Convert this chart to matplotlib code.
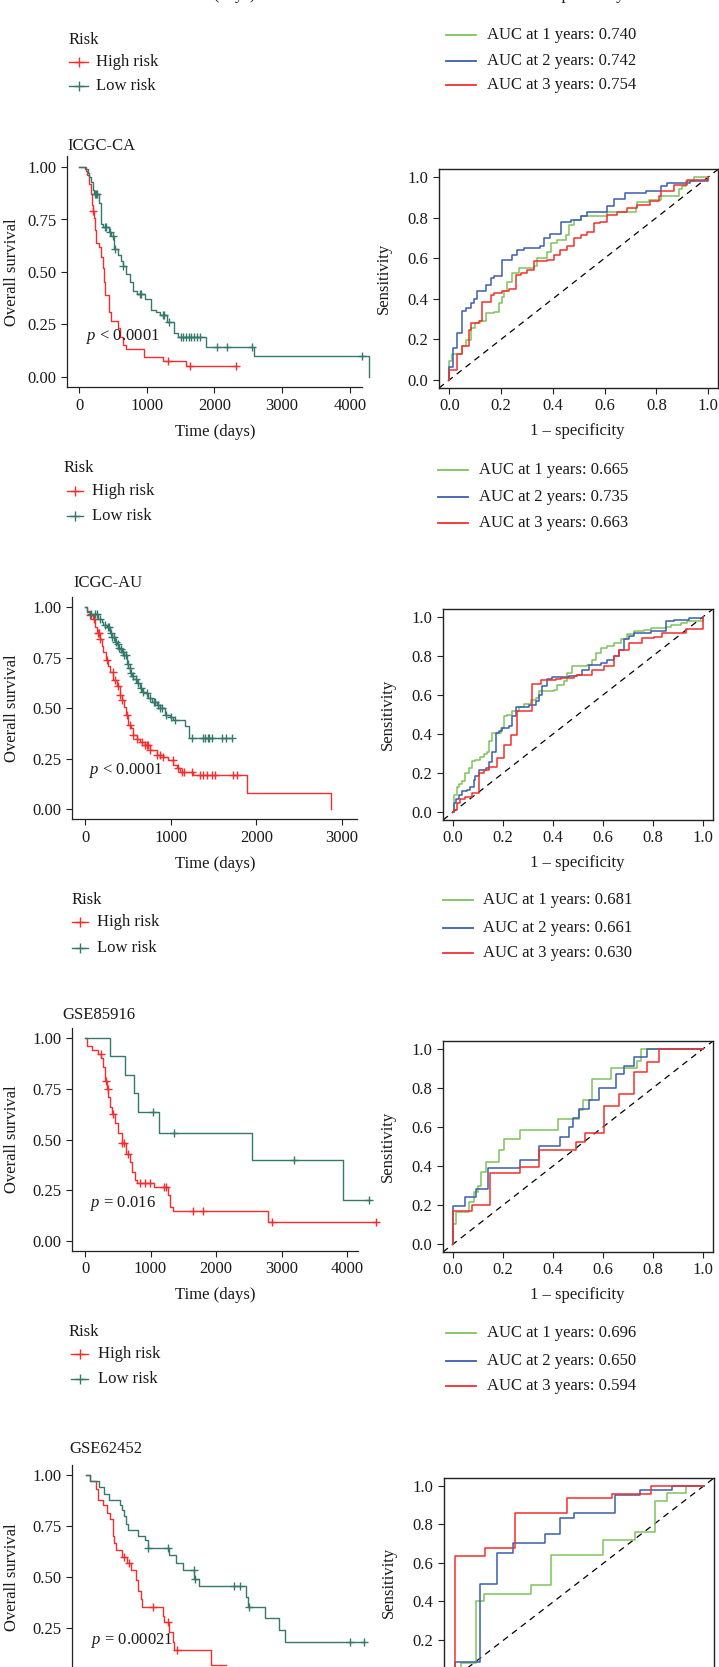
import numpy as np
import matplotlib
matplotlib.use("Agg")
import matplotlib.pyplot as plt
from matplotlib.lines import Line2D

W, H = 719, 1667
plt.rcParams['font.family'] = ['Liberation Serif', 'DejaVu Serif']
plt.rcParams['mathtext.fontset'] = 'custom'
plt.rcParams['mathtext.it'] = 'Liberation Serif:italic'
plt.rcParams['mathtext.rm'] = 'Liberation Serif'
FS = 12
TXT = '#1a1a1a'

RED = '#F52D2D'
TEAL = '#34796B'
ROC_G = '#7DC45A'
ROC_B = '#3A5FAE'
ROC_R = '#F2302E'

# ---------------- data ----------------
titles = ["ICGC-CA", "ICGC-AU", "GSE85916", "GSE62452"]
p_texts = [r"$p$ < 0.0001", r"$p$ < 0.0001", r"$p$ = 0.016", r"$p$ = 0.00021"]
auc_top = ["0.740", "0.742", "0.754"]
auc_vals = [["0.665", "0.735", "0.663"],
            ["0.681", "0.661", "0.630"],
            ["0.696", "0.650", "0.594"]]
years = [1, 2, 3]
km_xticks = [[0, 1000, 2000, 3000, 4000], [0, 1000, 2000, 3000],
             [0, 1000, 2000, 3000, 4000], [0, 1000, 2000, 3000, 4000]]
km_yticks = [0.00, 0.25, 0.50, 0.75, 1.00]
roc_ticks = [0.0, 0.2, 0.4, 0.6, 0.8, 1.0]

# ICGC-CA
ca_high_t = [0, 100, 125, 150, 170, 185, 200, 225, 240, 255, 300, 330, 350, 370, 390, 445, 470, 580, 600, 650, 690, 960, 1240, 1580, 2320]
ca_high_s = [1.0, 0.98, 0.96, 0.92, 0.87, 0.82, 0.79, 0.755, 0.70, 0.64, 0.62, 0.57, 0.52, 0.45, 0.39, 0.31, 0.265, 0.235, 0.19, 0.15, 0.135, 0.095, 0.075, 0.05, 0.05]
ca_high_c = [210, 1320, 1635, 2320]
ca_low_t = [0, 85, 130, 150, 170, 200, 220, 300, 330, 350, 440, 480, 520, 580, 620, 650, 700, 750, 800, 850, 980, 1070, 1130, 1200, 1300, 1400, 1460, 1880, 2580, 4290]
ca_low_s = [1.0, 0.99, 0.97, 0.95, 0.93, 0.89, 0.87, 0.83, 0.73, 0.715, 0.69, 0.67, 0.61, 0.58, 0.55, 0.53, 0.49, 0.45, 0.41, 0.395, 0.37, 0.32, 0.31, 0.295, 0.26, 0.21, 0.19, 0.145, 0.10, 0.0]
ca_low_c = [230, 250, 270, 380, 400, 455, 505, 530, 653, 900, 920, 1240, 1260, 1330, 1500, 1540, 1580, 1620, 1660, 1700, 1740, 1790, 2040, 2180, 2560, 4180]

# ICGC-AU
au_high_t = [0, 27, 58, 89, 117, 136, 175, 200, 214, 245, 272, 292, 331, 370, 409, 428, 455, 479, 506, 533, 564, 603, 642, 700, 759, 837, 914, 973, 1031, 1070, 1109, 1265, 1887, 2872]
au_high_s = [1.0, 0.98, 0.96, 0.94, 0.90, 0.87, 0.84, 0.81, 0.78, 0.74, 0.71, 0.68, 0.64, 0.61, 0.565, 0.54, 0.507, 0.466, 0.417, 0.40, 0.367, 0.35, 0.334, 0.318, 0.293, 0.269, 0.26, 0.244, 0.22, 0.203, 0.186, 0.168, 0.082, 0.0]
au_high_c = [60, 100, 150, 165, 180, 255, 330, 350, 390, 410, 430, 490, 525, 565, 605, 660, 700, 720, 740, 760, 840, 875, 915, 1030, 1090, 1130, 1150, 1245, 1340, 1380, 1420, 1480, 1520, 1730, 1770]
au_low_t = [0, 19, 58, 156, 195, 214, 253, 292, 311, 350, 370, 389, 409, 428, 447, 486, 506, 525, 545, 564, 603, 642, 661, 700, 739, 778, 837, 875, 934, 992, 1031, 1167, 1214, 1710]
au_low_s = [1.0, 0.975, 0.967, 0.942, 0.926, 0.91, 0.90, 0.87, 0.85, 0.83, 0.82, 0.80, 0.795, 0.78, 0.763, 0.72, 0.697, 0.672, 0.66, 0.647, 0.623, 0.598, 0.58, 0.573, 0.549, 0.532, 0.516, 0.50, 0.466, 0.455, 0.44, 0.41, 0.351, 0.351]
au_low_c = [75, 117, 140, 180, 230, 265, 280, 300, 320, 340, 360, 380, 400, 420, 440, 460, 480, 500, 520, 540, 560, 590, 620, 650, 680, 720, 760, 800, 820, 850, 880, 900, 950, 1000, 1050, 1250, 1380, 1400, 1430, 1450, 1480, 1600, 1650, 1710]

# GSE85916
g1_high_t = [0, 36, 102, 204, 250, 270, 305, 330, 356, 380, 407, 458, 509, 560, 626, 680, 720, 757, 800, 1057, 1270, 1300, 1340, 2795, 4436]
g1_high_s = [1.0, 0.96, 0.94, 0.923, 0.90, 0.857, 0.79, 0.75, 0.71, 0.66, 0.628, 0.58, 0.53, 0.483, 0.43, 0.39, 0.34, 0.30, 0.285, 0.265, 0.227, 0.168, 0.148, 0.094, 0.094]
g1_high_c = [240, 320, 351, 424, 565, 602, 657, 847, 917, 986, 1200, 1236, 1656, 1798, 2853, 4436]
g1_low_t = [0, 380, 610, 748, 804, 1135, 2555, 3939, 4336]
g1_low_s = [1.0, 0.912, 0.82, 0.73, 0.637, 0.53, 0.40, 0.20, 0.20]
g1_low_c = [1040, 1359, 3191, 4336]

# GSE62452
g2_high_t = [0, 66, 153, 178, 254, 321, 371, 407, 433, 458, 550, 626, 687, 763, 789, 840, 855, 1170, 1196, 1272, 1323, 1349, 1908, 2137]
g2_high_s = [1.0, 0.972, 0.93, 0.877, 0.853, 0.815, 0.783, 0.70, 0.665, 0.632, 0.60, 0.57, 0.534, 0.485, 0.43, 0.39, 0.355, 0.31, 0.28, 0.23, 0.18, 0.14, 0.068, 0.068]
g2_high_c = [575, 651, 1018, 1247, 1389]
g2_low_t = [0, 66, 204, 270, 356, 524, 550, 575, 611, 646, 789, 901, 941, 1272, 1374, 1476, 1654, 1730, 2443, 2478, 2733, 2952, 3038, 4250]
g2_low_s = [1.0, 0.972, 0.94, 0.91, 0.88, 0.853, 0.83, 0.80, 0.76, 0.73, 0.70, 0.68, 0.64, 0.61, 0.57, 0.534, 0.49, 0.457, 0.40, 0.355, 0.30, 0.24, 0.18, 0.18]
g2_low_c = [952, 1247, 1644, 1664, 2265, 2356, 2490, 4031, 4250]

# ROC curves (fpr, tpr) for 1, 2, 3 years
ca_g_fpr = [0, 0, 0.012, 0.05, 0.063, 0.082, 0.10, 0.12, 0.14, 0.172, 0.192, 0.205, 0.211, 0.224, 0.243, 0.269, 0.327, 0.34, 0.378, 0.391, 0.417, 0.449, 0.462, 0.481, 0.507, 0.61, 0.72, 0.726, 0.771, 0.816, 0.887, 0.90, 0.913, 0.945, 1.0]
ca_g_tpr = [0, 0.095, 0.13, 0.165, 0.197, 0.255, 0.28, 0.29, 0.33, 0.337, 0.378, 0.41, 0.436, 0.485, 0.526, 0.55, 0.56, 0.60, 0.633, 0.674, 0.69, 0.715, 0.765, 0.79, 0.806, 0.83, 0.855, 0.875, 0.888, 0.905, 0.94, 0.954, 0.98, 1.0, 1.0]
ca_b_fpr = [0, 0, 0.015, 0.031, 0.048, 0.063, 0.082, 0.095, 0.108, 0.141, 0.16, 0.172, 0.205, 0.243, 0.262, 0.288, 0.35, 0.365, 0.39, 0.43, 0.47, 0.507, 0.533, 0.61, 0.635, 0.68, 0.76, 0.816, 0.84, 0.93, 1.0]
ca_b_tpr = [0, 0.066, 0.156, 0.23, 0.34, 0.354, 0.378, 0.40, 0.44, 0.47, 0.50, 0.51, 0.59, 0.617, 0.64, 0.65, 0.66, 0.70, 0.72, 0.78, 0.79, 0.806, 0.83, 0.86, 0.89, 0.92, 0.93, 0.954, 0.97, 0.98, 1.0]
ca_r_fpr = [0, 0, 0.031, 0.05, 0.076, 0.082, 0.114, 0.127, 0.159, 0.172, 0.205, 0.23, 0.256, 0.275, 0.301, 0.327, 0.378, 0.404, 0.429, 0.455, 0.481, 0.507, 0.533, 0.559, 0.584, 0.61, 0.649, 0.687, 0.726, 0.777, 0.81, 0.816, 0.867, 0.919, 1.0]
ca_r_tpr = [0, 0.05, 0.13, 0.165, 0.247, 0.283, 0.288, 0.383, 0.42, 0.43, 0.44, 0.447, 0.518, 0.526, 0.543, 0.584, 0.592, 0.617, 0.641, 0.658, 0.70, 0.715, 0.73, 0.773, 0.78, 0.814, 0.83, 0.847, 0.864, 0.88, 0.905, 0.93, 0.962, 0.987, 1.0]

au_g_fpr = [0, 0.005, 0.016, 0.023, 0.036, 0.049, 0.063, 0.076, 0.089, 0.109, 0.123, 0.136, 0.143, 0.156, 0.19, 0.203, 0.216, 0.236, 0.263, 0.283, 0.31, 0.33, 0.343, 0.403, 0.417, 0.443, 0.457, 0.477, 0.537, 0.557, 0.57, 0.59, 0.617, 0.644, 0.67, 0.697, 0.724, 0.764, 0.79, 0.85, 0.87, 0.91, 0.937, 1.0]
au_g_tpr = [0, 0.09, 0.13, 0.145, 0.16, 0.20, 0.226, 0.26, 0.268, 0.285, 0.30, 0.31, 0.362, 0.405, 0.43, 0.49, 0.50, 0.516, 0.54, 0.556, 0.576, 0.585, 0.62, 0.627, 0.653, 0.67, 0.713, 0.747, 0.755, 0.78, 0.815, 0.84, 0.85, 0.867, 0.885, 0.91, 0.926, 0.935, 0.944, 0.95, 0.96, 0.967, 0.977, 1.0]
au_b_fpr = [0, 0.005, 0.013, 0.023, 0.036, 0.056, 0.069, 0.083, 0.089, 0.103, 0.13, 0.143, 0.156, 0.17, 0.183, 0.196, 0.223, 0.236, 0.25, 0.303, 0.33, 0.343, 0.356, 0.377, 0.397, 0.463, 0.497, 0.517, 0.543, 0.59, 0.617, 0.644, 0.664, 0.684, 0.704, 0.724, 0.79, 0.85, 0.883, 0.943, 1.0]
au_b_tpr = [0, 0.046, 0.07, 0.09, 0.106, 0.115, 0.13, 0.166, 0.186, 0.217, 0.226, 0.255, 0.31, 0.405, 0.414, 0.43, 0.44, 0.49, 0.54, 0.55, 0.567, 0.60, 0.644, 0.68, 0.69, 0.695, 0.704, 0.73, 0.755, 0.764, 0.78, 0.80, 0.832, 0.884, 0.90, 0.918, 0.926, 0.977, 0.986, 0.995, 1.0]
au_r_fpr = [0, 0.005, 0.016, 0.029, 0.049, 0.076, 0.103, 0.123, 0.143, 0.176, 0.203, 0.23, 0.256, 0.316, 0.35, 0.41, 0.43, 0.483, 0.497, 0.557, 0.603, 0.644, 0.664, 0.704, 0.757, 0.804, 0.837, 0.93, 1.0]
au_r_tpr = [0, 0.012, 0.046, 0.07, 0.08, 0.097, 0.20, 0.214, 0.23, 0.277, 0.345, 0.397, 0.516, 0.658, 0.675, 0.682, 0.687, 0.696, 0.704, 0.73, 0.747, 0.80, 0.832, 0.867, 0.892, 0.897, 0.915, 0.94, 1.0]

g1_g_fpr = [0, 0, 0.013, 0.065, 0.083, 0.10, 0.111, 0.13, 0.185, 0.204, 0.269, 0.42, 0.505, 0.52, 0.557, 0.63, 0.734, 0.75, 1.0]
g1_g_tpr = [0, 0.103, 0.166, 0.217, 0.268, 0.297, 0.371, 0.422, 0.482, 0.537, 0.585, 0.639, 0.687, 0.738, 0.848, 0.90, 0.94, 1.0, 1.0]
g1_b_fpr = [0, 0, 0.046, 0.093, 0.139, 0.269, 0.343, 0.426, 0.463, 0.48, 0.503, 0.543, 0.583, 0.65, 0.684, 0.724, 0.777, 1.0]
g1_b_tpr = [0, 0.195, 0.239, 0.28, 0.388, 0.43, 0.503, 0.55, 0.598, 0.644, 0.69, 0.736, 0.80, 0.87, 0.914, 0.96, 1.0, 1.0]
g1_r_fpr = [0, 0, 0.074, 0.148, 0.269, 0.343, 0.49, 0.528, 0.605, 0.664, 0.724, 0.774, 0.824, 1.0]
g1_r_tpr = [0, 0.171, 0.20, 0.362, 0.397, 0.482, 0.525, 0.568, 0.707, 0.767, 0.883, 0.934, 1.0, 1.0]

g2_g_fpr = [0, 0.028, 0.088, 0.119, 0.307, 0.387, 0.594, 0.724, 0.802, 0.851, 0.928, 1.0]
g2_g_tpr = [0, 0.077, 0.40, 0.44, 0.483, 0.64, 0.72, 0.76, 0.92, 0.96, 1.0, 1.0]
g2_b_fpr = [0, 0.004, 0.102, 0.173, 0.236, 0.363, 0.423, 0.479, 0.644, 0.742, 0.871, 1.0]
g2_b_tpr = [0, 0.085, 0.49, 0.65, 0.70, 0.75, 0.834, 0.856, 0.95, 0.976, 1.0, 1.0]
g2_r_fpr = [0, 0.004, 0.125, 0.245, 0.452, 0.63, 0.788, 1.0]
g2_r_tpr = [0, 0.637, 0.676, 0.86, 0.938, 0.955, 1.0, 1.0]

km_data = [
    ((ca_high_t, ca_high_s, ca_high_c), (ca_low_t, ca_low_s, ca_low_c)),
    ((au_high_t, au_high_s, au_high_c), (au_low_t, au_low_s, au_low_c)),
    ((g1_high_t, g1_high_s, g1_high_c), (g1_low_t, g1_low_s, g1_low_c)),
    ((g2_high_t, g2_high_s, g2_high_c), (g2_low_t, g2_low_s, g2_low_c)),
]
roc_data = [
    [(ca_g_fpr, ca_g_tpr), (ca_b_fpr, ca_b_tpr), (ca_r_fpr, ca_r_tpr)],
    [(au_g_fpr, au_g_tpr), (au_b_fpr, au_b_tpr), (au_r_fpr, au_r_tpr)],
    [(g1_g_fpr, g1_g_tpr), (g1_b_fpr, g1_b_tpr), (g1_r_fpr, g1_r_tpr)],
    [(g2_g_fpr, g2_g_tpr), (g2_b_fpr, g2_b_tpr), (g2_r_fpr, g2_r_tpr)],
]

# ---------------- layout (pixels) ----------------
# KM: left, right, top(1.05), bottom(-0.05), x of day 0, px per 1000 days
km_box = [(67, 362, 156.5, 387.5, 79, 67.7),
          (72, 357, 597, 819.5, 85, 85.7),
          (72, 358, 1028, 1251, 85, 65.5),
          (72, 362, 1465, 1689, 86, 65.5)]
title_pos = [(67, 146), (73, 583), (62, 1015), (69, 1449)]
p_pos = [(86, 337), (89, 770), (90, 1203), (91, 1640)]
roc_box = [(439, 718.5, 169, 388), (443, 713, 609, 820),
           (443, 713, 1041, 1252), (444, 714, 1478, 1686)]
# KM legends: risk x, ys, line x0, x1, text x
km_leg = [(69, (40, 62, 86), 69, 88, 96),
          (64, (468, 491, 516), 67, 83, 92),
          (72, (900, 922, 948), 72, 88, 97),
          (69, (1332, 1354, 1379), 71, 88, 98)]
roc_leg = [((35, 61, 85), 446, 476, 487),
           ((470, 497, 523), 438, 468, 479),
           ((900, 928, 953), 443, 473, 483),
           ((1333, 1361, 1386), 446, 476, 487)]

fig = plt.figure(figsize=(W / 100, H / 100), dpi=100)


def fx(x):
    return x / W


def fy(y):
    return 1 - y / H


def add_ax(l, r, t, b):
    return fig.add_axes([fx(l), fy(b), (r - l) / W, (b - t) / H])


def step_val(t, s, c):
    t = np.asarray(t, float)
    s = np.asarray(s, float)
    idx = np.searchsorted(t, np.asarray(c, float), side='right') - 1
    return s[np.clip(idx, 0, len(s) - 1)]


def style_ticks(ax):
    ax.tick_params(direction='out', length=4, width=0.8, pad=3.5,
                   labelsize=FS, colors='#222222', labelcolor=TXT)


for i in range(4):
    last = (i == 3)
    l, r, t, b, x0, ppk = km_box[i]
    ax = add_ax(l, r, t, b)
    ax.set_xlim((l - x0) / ppk * 1000, (r - x0) / ppk * 1000)
    ax.set_ylim(-0.05, 1.05)
    for (tt, ss, cc), col in zip(km_data[i], [RED, TEAL]):
        ax.step(tt, ss, where='post', color=col, lw=1.0, clip_on=False)
        ax.plot(cc, step_val(tt, ss, cc), ls='none', marker='+', ms=6,
                mew=1.0, color=col, clip_on=False)
    ax.set_xticks(km_xticks[i])
    yt = km_yticks[1:] if last else km_yticks
    ax.set_yticks(yt)
    ax.set_yticklabels([f"{v:.2f}" for v in yt])
    for sp in ['top', 'right']:
        ax.spines[sp].set_visible(False)
    for sp in ['left', 'bottom']:
        ax.spines[sp].set_linewidth(0.9)
        ax.spines[sp].set_color('#222222')
    style_ticks(ax)
    if last:
        ax.tick_params(labelbottom=False)
    ax.patch.set_alpha(0)
    fig.text(fx(title_pos[i][0]), fy(title_pos[i][1]), titles[i],
             ha='left', va='center', fontsize=FS, color=TXT)
    fig.text(fx(p_pos[i][0]), fy(p_pos[i][1]), p_texts[i],
             ha='left', va='center', fontsize=FS, color=TXT)
    fig.text(fx(12), fy((t + b) / 2), "Overall survival", rotation=90,
             ha='center', va='center', fontsize=FS, color=TXT)
    if not last:
        fig.text(fx(215), fy(b + 44), "Time (days)", ha='center',
                 va='center', fontsize=FS, color=TXT)

    # ROC
    l2, r2, t2, b2 = roc_box[i]
    ax2 = add_ax(l2, r2, t2, b2)
    ax2.set_xlim(-0.04, 1.04)
    ax2.set_ylim(-0.04, 1.04)
    ax2.plot([-0.04, 1.04], [-0.04, 1.04], color='black', lw=0.9,
             ls=(0, (5, 4)))
    for (fp, tp), col in zip(roc_data[i], [ROC_G, ROC_B, ROC_R]):
        ax2.step(fp, tp, where='post', color=col, lw=1.1)
    ax2.set_xticks(roc_ticks)
    ax2.set_xticklabels([f"{v:.1f}" for v in roc_ticks])
    ryt = roc_ticks[1:] if last else roc_ticks
    ax2.set_yticks(ryt)
    ax2.set_yticklabels([f"{v:.1f}" for v in ryt])
    for sp in ax2.spines.values():
        sp.set_linewidth(1.0)
        sp.set_color('#222222')
    style_ticks(ax2)
    if last:
        ax2.tick_params(labelbottom=False)
    fig.text(fx(l2 - 55), fy((t2 + b2) / 2), "Sensitivity", rotation=90,
             ha='center', va='center', fontsize=FS, color=TXT)
    if not last:
        fig.text(fx(577), fy(b2 + 43), "1 \u2013 specificity", ha='center',
                 va='center', fontsize=FS, color=TXT)

# top (cut-off) panel axis labels: only their lower edge shows
fig.text(fx(215), fy(-5), "Time (days)", ha='center', va='center',
         fontsize=FS, color=TXT)
fig.text(fx(577), fy(-5), "1 \u2013 specificity", ha='center', va='center',
         fontsize=FS, color=TXT)

# legends
for j in range(4):
    rx, ys, lx0, lx1, tx = km_leg[j]
    fig.text(fx(rx), fy(ys[0]), "Risk", ha='left', va='center', fontsize=FS,
             color=TXT)
    for y, col, lab in zip(ys[1:], [RED, TEAL], ["High risk", "Low risk"]):
        fig.add_artist(Line2D([fx(lx0), fx(lx1)], [fy(y), fy(y)], color=col,
                              lw=1.0, transform=fig.transFigure))
        fig.add_artist(Line2D([fx((lx0 + lx1) / 2)], [fy(y)], color=col,
                              marker='+', ms=7, mew=1.0, ls='none',
                              transform=fig.transFigure))
        fig.text(fx(tx), fy(y), lab, ha='left', va='center', fontsize=FS,
                 color=TXT)
    ys2, ax0, ax1, atx = roc_leg[j]
    vals = auc_top if j == 0 else auc_vals[j - 1]
    for y, col, yr, v in zip(ys2, [ROC_G, ROC_B, ROC_R], years, vals):
        fig.add_artist(Line2D([fx(ax0), fx(ax1)], [fy(y), fy(y)], color=col,
                              lw=1.3, transform=fig.transFigure))
        fig.text(fx(atx), fy(y), f"AUC at {yr} years: {v}", ha='left',
                 va='center', fontsize=FS, color=TXT)

fig.savefig("out.png", dpi=100)
